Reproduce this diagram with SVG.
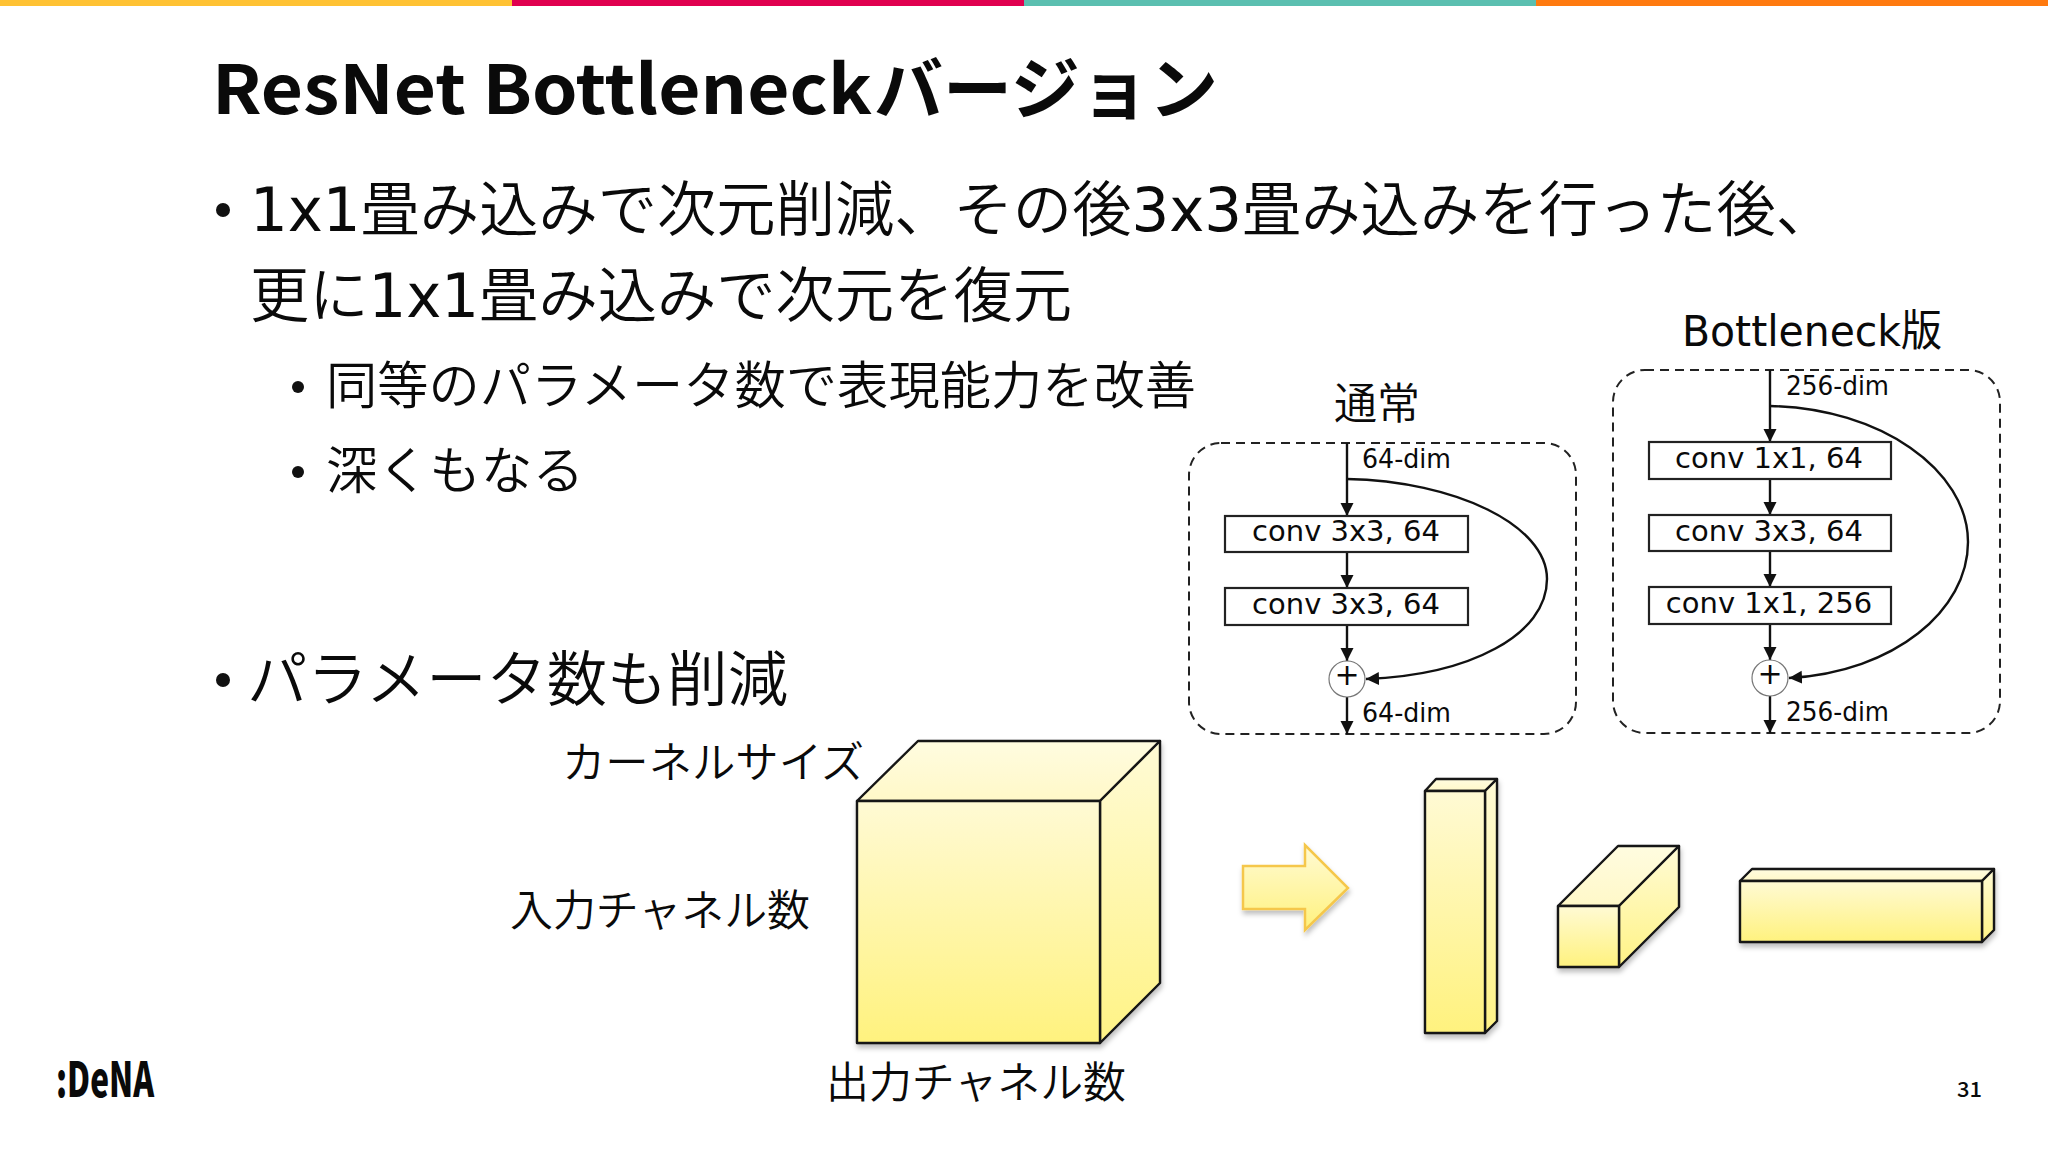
<svg xmlns="http://www.w3.org/2000/svg" width="2048" height="1152" viewBox="0 0 2048 1152">
<style>
text{font-family:"Noto Sans CJK JP","Noto Sans",sans-serif;fill:#0a0a0a}
.title{font-size:68px;font-weight:700}
.b1{font-size:60px;font-weight:350}
.b2{font-size:51px;font-weight:350}
.lab{font-size:43px;font-weight:350}
.v{font-family:"DejaVu Sans","Noto Sans CJK JP",sans-serif;font-weight:400}
.conv{font-size:29px;text-anchor:middle}
.dim{font-size:26px}
.dash{fill:none;stroke:#222;stroke-width:2;stroke-dasharray:9 6}
.box{fill:#fff;stroke:#222;stroke-width:2.2}
.wire{fill:none;stroke:#111;stroke-width:2.4}
.sum{fill:#fff;stroke:#777;stroke-width:1.2}
.face{stroke:#141414;stroke-width:2.4;stroke-linejoin:round}
</style>
<defs>
<linearGradient id="gf" x1="0" y1="0" x2="0" y2="1"><stop offset="0" stop-color="#FFFAD4"/><stop offset="1" stop-color="#FFF27E"/></linearGradient>
<linearGradient id="gt" x1="0" y1="0" x2="0" y2="1"><stop offset="0" stop-color="#FFFCE0"/><stop offset="1" stop-color="#FFF8C8"/></linearGradient>
<linearGradient id="gs" x1="0" y1="0" x2="0" y2="1"><stop offset="0" stop-color="#FFFBD6"/><stop offset="1" stop-color="#FFF385"/></linearGradient>
<filter id="sh" x="-10%" y="-10%" width="125%" height="125%"><feDropShadow dx="1" dy="4" stdDeviation="2.5" flood-color="#000" flood-opacity=".25"/></filter>
<marker id="ah" markerUnits="userSpaceOnUse" markerWidth="14" markerHeight="14" refX="13" refY="7" orient="auto"><path d="M0 0.5L13 7L0 13.5Z" fill="#111"/></marker>
</defs>
<rect width="2048" height="1152" fill="#fff"/>
<g id="topbar">
<rect x="0" y="0" width="512" height="6" fill="#FFC233"/>
<rect x="512" y="0" width="512" height="6" fill="#E0004F"/>
<rect x="1024" y="0" width="512" height="6" fill="#5BBFB0"/>
<rect x="1536" y="0" width="512" height="6" fill="#FF7A0F"/>
</g>
<text class="title" x="212" y="114" textLength="660" lengthAdjust="spacingAndGlyphs">ResNet Bottleneck</text>
<text class="title" x="874" y="114" textLength="344" lengthAdjust="spacingAndGlyphs">バージョン</text>
<g id="bullets">
<circle cx="223" cy="210" r="7" fill="#111"/>
<text class="b1" x="250" y="231" textLength="1585" lengthAdjust="spacingAndGlyphs"><tspan class="v">1x1</tspan>畳み込みで次元削減、その後<tspan class="v">3x3</tspan>畳み込みを行った後、</text>
<text class="b1" x="250" y="317" textLength="822" lengthAdjust="spacingAndGlyphs">更に<tspan class="v">1x1</tspan>畳み込みで次元を復元</text>
<circle cx="298" cy="387" r="6" fill="#111"/>
<text class="b2" x="326" y="404" textLength="870" lengthAdjust="spacingAndGlyphs">同等のパラメータ数で表現能力を改善</text>
<circle cx="298" cy="472" r="6" fill="#111"/>
<text class="b2" x="326" y="489" textLength="258" lengthAdjust="spacingAndGlyphs">深くもなる</text>
<circle cx="223" cy="680" r="7" fill="#111"/>
<text class="b1" x="247" y="701" textLength="541" lengthAdjust="spacingAndGlyphs">パラメータ数も削減</text>
</g>
<text class="lab" x="1377" y="419" text-anchor="middle">通常</text>
<text class="lab v" x="1682" y="346" textLength="260" lengthAdjust="spacingAndGlyphs">Bottleneck版</text>
<g id="frames">
<rect class="dash" x="1189" y="443" width="387" height="291" rx="32"/>
<rect class="dash" x="1613" y="370" width="387" height="363" rx="32"/>
</g>
<g id="connectors">
<path class="wire" d="M1347 443V516" marker-end="url(#ah)"/>
<path class="wire" d="M1347 552V588" marker-end="url(#ah)"/>
<path class="wire" d="M1347 625V661" marker-end="url(#ah)"/>
<path class="wire" d="M1347 697V734" marker-end="url(#ah)"/>
<path class="wire" d="M1347 479C1455 481 1547 525 1547 579C1547 635 1470 675 1366 679" marker-end="url(#ah)"/>
<path class="wire" d="M1770 370V442" marker-end="url(#ah)"/>
<path class="wire" d="M1770 479V515" marker-end="url(#ah)"/>
<path class="wire" d="M1770 551V587" marker-end="url(#ah)"/>
<path class="wire" d="M1770 624V660" marker-end="url(#ah)"/>
<path class="wire" d="M1770 696V733" marker-end="url(#ah)"/>
<path class="wire" d="M1770 406C1880 408 1968 470 1968 542C1968 610 1895 672 1789 678" marker-end="url(#ah)"/>
</g>
<g id="plain-net">
<text class="v dim" x="1362" y="468" textLength="89" lengthAdjust="spacingAndGlyphs">64-dim</text>
<g id="p1"><rect class="box" x="1225" y="516" width="243" height="36"/><text class="v conv" x="1346" y="541">conv 3x3, 64</text></g>
<g id="p2"><rect class="box" x="1225" y="588" width="243" height="37"/><text class="v conv" x="1346" y="614">conv 3x3, 64</text></g>
<g id="p3"><circle class="sum" cx="1347" cy="679" r="18"/><text class="v" x="1347" y="685" font-size="30" text-anchor="middle">+</text></g>
<text class="v dim" x="1362" y="722" textLength="89" lengthAdjust="spacingAndGlyphs">64-dim</text>
</g>
<g id="bottleneck-net">
<text class="v dim" x="1786" y="395" textLength="103" lengthAdjust="spacingAndGlyphs">256-dim</text>
<g id="b1"><rect class="box" x="1649" y="442" width="242" height="37"/><text class="v conv" x="1769" y="468">conv 1x1, 64</text></g>
<g id="b2"><rect class="box" x="1649" y="515" width="242" height="36"/><text class="v conv" x="1769" y="541">conv 3x3, 64</text></g>
<g id="b3"><rect class="box" x="1649" y="587" width="242" height="37"/><text class="v conv" x="1769" y="613">conv 1x1, 256</text></g>
<g id="b4"><circle class="sum" cx="1770" cy="678" r="18"/><text class="v" x="1770" y="684" font-size="30" text-anchor="middle">+</text></g>
<text class="v dim" x="1786" y="721" textLength="103" lengthAdjust="spacingAndGlyphs">256-dim</text>
</g>
<g id="cube-big" filter="url(#sh)">
<path class="face" fill="url(#gt)" d="M857 801L918 741H1160L1100 801Z"/>
<path class="face" fill="url(#gs)" d="M1100 801L1160 741V983L1100 1043Z"/>
<rect class="face" fill="url(#gf)" x="857" y="801" width="243" height="242"/>
</g>
<g id="arrow" filter="url(#sh)">
<path fill="url(#gf)" stroke="#F5C74B" stroke-width="2.5" d="M1243 866H1305V845L1348 888L1305 930V909H1243Z"/>
</g>
<g id="prism-tall" filter="url(#sh)">
<path class="face" fill="url(#gt)" d="M1425 791L1436 779H1497L1485 791Z"/>
<path class="face" fill="url(#gs)" d="M1485 791L1497 779V1021L1485 1033Z"/>
<rect class="face" fill="url(#gf)" x="1425" y="791" width="60" height="242"/>
</g>
<g id="prism-deep" filter="url(#sh)">
<path class="face" fill="url(#gt)" d="M1558 906L1618 846H1679L1619 906Z"/>
<path class="face" fill="url(#gs)" d="M1619 906L1679 846V907L1619 967Z"/>
<rect class="face" fill="url(#gf)" x="1558" y="906" width="61" height="61"/>
</g>
<g id="prism-wide" filter="url(#sh)">
<path class="face" fill="url(#gt)" d="M1740 881L1752 869H1994L1982 881Z"/>
<path class="face" fill="url(#gs)" d="M1982 881L1994 869V930L1982 942Z"/>
<rect class="face" fill="url(#gf)" x="1740" y="881" width="242" height="61"/>
</g>
<g id="labels">
<text class="lab" x="562" y="778" textLength="302" lengthAdjust="spacingAndGlyphs">カーネルサイズ</text>
<text class="lab" x="510" y="926" textLength="300" lengthAdjust="spacingAndGlyphs">入力チャネル数</text>
<text class="lab" x="826" y="1098" textLength="300" lengthAdjust="spacingAndGlyphs">出力チャネル数</text>
</g>
<text x="56" y="1097" font-family="Lato,sans-serif" font-weight="900" font-size="48" textLength="98" lengthAdjust="spacingAndGlyphs">:DeNA</text>
<text x="1957" y="1097" font-size="21" font-weight="500" textLength="25" lengthAdjust="spacingAndGlyphs">31</text>
</svg>
